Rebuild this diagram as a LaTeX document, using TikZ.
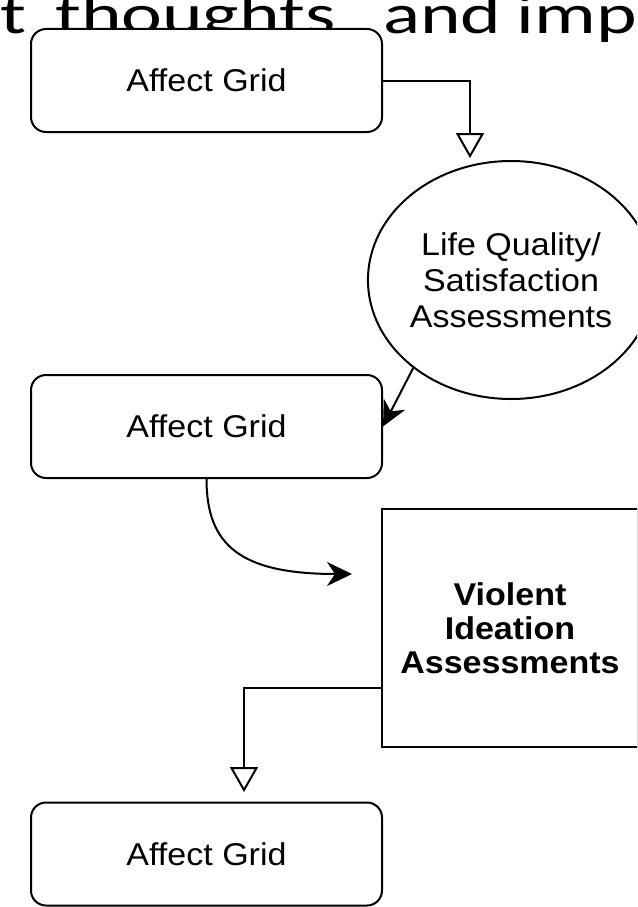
\documentclass[tikz,border=0pt]{standalone}
\usepackage{fontspec}
\setmainfont{Liberation Sans}[FakeStretch=1.08]
\newfontfamily\topfont{Carlito}[FakeStretch=1.38]
\usetikzlibrary{arrows.meta,shapes.geometric,calc}
\begin{document}
\begin{tikzpicture}[x=1pt,y=-1pt,
  agbox/.style={draw, line width=2pt, rounded corners=15pt, fill=white,
    minimum width=351pt, minimum height=103pt, inner sep=0pt,
    font=\fontsize{31.5}{36}\selectfont},
  lqnode/.style={ellipse, draw, line width=2pt, fill=white,
    minimum width=250pt, minimum height=238pt, inner sep=0pt, align=center,
    font=\fontsize{31.5}{36}\selectfont},
  vinode/.style={draw, line width=2pt, fill=white,
    minimum width=256pt, minimum height=238pt, inner sep=0pt, align=center,
    font=\bfseries\fontsize{31.5}{34}\selectfont},
  conn/.style={line width=2pt},
  opentip/.style={-{Triangle[open, length=25pt, width=28pt]}},
  filltip/.style={-{Stealth[length=25pt, width=24pt, inset=8pt]}}]
\useasboundingbox (0,0) rectangle (637,907);
\clip (0,0) rectangle (637,907);
\fill[white] (0,0) rectangle (637,907);
% clipped title text behind the boxes
\node[anchor=base west, inner sep=0pt, font=\topfont\fontsize{56}{56}\selectfont] (title) at (0,34)
  {\rlap{t}\hspace{55pt}\rlap{thoughts}\hspace{328pt}\rlap{and}\hspace{134pt}impa};
% nodes
\node[agbox] (ag1) at (206.5,80.5) {Affect Grid};
\node[lqnode] (lq) at (511,280) {Life Quality/\\Satisfaction\\Assessments};
\node[agbox] (ag2) at (206.5,426.5) {Affect Grid};
\node[vinode] (vi) at (510,628) {Violent\\Ideation\\Assessments};
\node[agbox] (ag3) at (206.5,854) {Affect Grid};
\coordinate (c1) at (352,574);
% connectors
\draw[conn, opentip] (ag1.east) -| ([xshift=-41pt, yshift=2pt]lq.north);
\draw[conn, filltip] (lq.222) -- (ag2.east);
\draw[conn, filltip] (ag2.south) .. controls (206.5,545) and (240,574) .. (c1);
\draw[conn, opentip] ([yshift=-60pt]vi.west) -| ([xshift=37.5pt, yshift=9.5pt]ag3.north);
\end{tikzpicture}
\end{document}
